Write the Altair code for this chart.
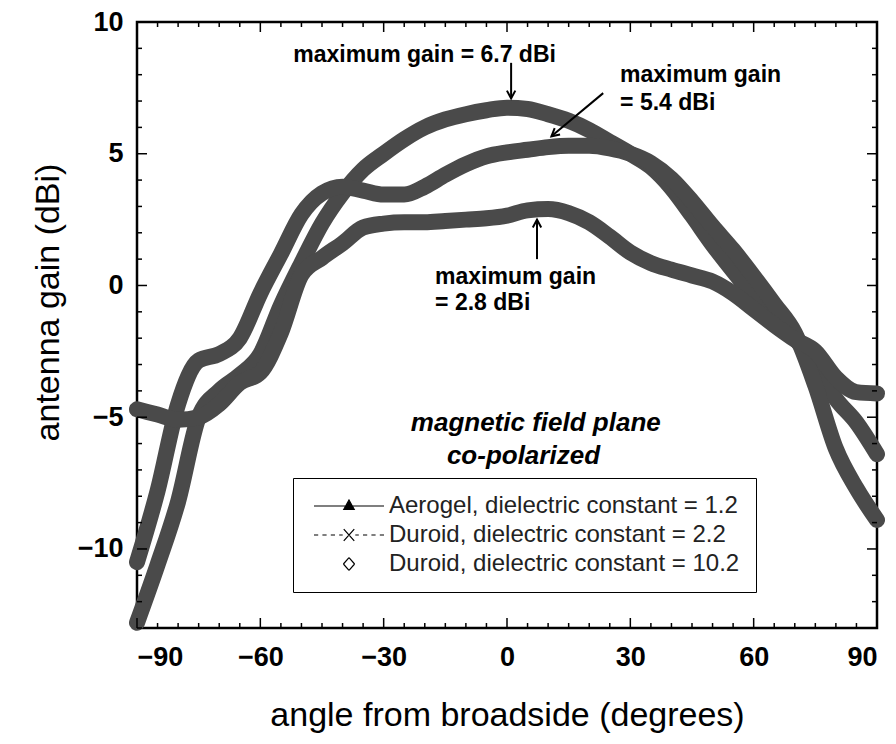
import altair as alt
import pandas as pd

# ---------------- data ----------------
angles = [-90, -85, -80, -75, -70, -65, -60, -55, -50, -45, -40, -35, -30, -25,
          -20, -15, -10, -5, 0, 5, 10, 15, 20, 25, 30, 35, 40, 45, 50, 55, 60,
          65, 70, 75, 80, 85, 90]

aerogel_12 = [-12.8, -10.6, -8.2, -5.0, -4.0, -3.4, -2.6, -0.75, 0.85, 2.35, 3.5,
              4.4, 5.0, 5.55, 6.0, 6.3, 6.5, 6.65, 6.75, 6.7, 6.5, 6.25, 5.9, 5.45,
              5.0, 4.5, 3.7, 2.65, 1.55, 0.55, -0.4, -1.25, -2.0, -3.0, -4.3, -5.2,
              -6.4]

duroid_22 = [-10.5, -7.8, -4.5, -2.85, -2.6, -2.0, -0.3, 1.2, 2.7, 3.5, 3.75, 3.6,
             3.45, 3.45, 3.75, 4.2, 4.6, 4.9, 5.05, 5.15, 5.25, 5.3, 5.3, 5.2, 5.0,
             4.65, 4.05, 3.2, 2.25, 1.35, 0.35, -0.7, -1.8, -3.8, -6.2, -7.7, -8.9]

duroid_102 = [-4.7, -4.9, -5.1, -5.0, -4.5, -3.7, -3.3, -1.8, 0.4, 1.05, 1.6, 2.2,
              2.35, 2.4, 2.4, 2.45, 2.5, 2.55, 2.65, 2.85, 2.9, 2.75, 2.4, 1.85,
              1.25, 0.85, 0.6, 0.38, 0.15, -0.3, -0.9, -1.5, -2.05, -2.5, -3.5,
              -4.05, -4.1]

materials = ["Aerogel, dielectric constant = 1.2",
             "Duroid, dielectric constant = 2.2",
             "Duroid, dielectric constant = 10.2"]

# legend glyphs: solid line + triangle, dotted line + x, open diamond only
legend_paths = [
    "M-5,0H5M0,-0.85L0.75,0.5L-0.75,0.5Z",
    "M-5,0H-4.4M-3.8,0H-3.2M-2.6,0H-2M-1.4,0H-0.9M0.9,0H1.4M2,0H2.6M3.2,0H3.8M4.4,0H5"
    "M-0.75,-0.85L0.75,0.85M-0.75,0.85L0.75,-0.85",
    "M0,-0.9L0.8,0M0.8,0L0,0.9M0,0.9L-0.8,0M-0.8,0L0,-0.9",
]

x_ticks_major = [-90, -60, -30, 0, 30, 60, 90]
x_ticks_minor = [a for a in range(-90, 91, 5) if a not in x_ticks_major]
y_ticks_major = [-10, -5, 0, 5, 10]
y_ticks_minor = [g for g in range(-13, 11) if g not in y_ticks_major]

ann_text = ["maximum gain = 6.7 dBi", "maximum gain", "= 5.4 dBi",
            "maximum gain", "= 2.8 dBi"]
ann_x = [-52.0, 27.5, 27.5, -17.5, -17.5]
ann_y = [8.75, 7.99, 6.93, 0.32, -0.66]

note_text = ["magnetic field plane", "co-polarized"]
note_x = [7.0, 4.0]
note_y = [-5.22, -6.47]

arrow_x1 = [1.0, 23.4, 7.3]
arrow_y1 = [8.45, 7.3, 1.0]
arrow_x2 = [1.0, 10.8, 7.3]
arrow_y2 = [7.1, 5.66, 2.5]
arrow_rot = [0, 50, 180]

# ---------------- tables ----------------
rows = []
for name, vals in zip(materials, [aerogel_12, duroid_22, duroid_102]):
    for a, g in zip(angles, vals):
        rows.append({"material": name, "angle": a, "gain": g})
curves = pd.DataFrame(rows)

legend_df = pd.DataFrame({"material": materials})
ann_df = pd.DataFrame({"angle": ann_x, "gain": ann_y, "txt": ann_text})
note_df = pd.DataFrame({"angle": note_x, "gain": note_y, "txt": note_text})
arrow_df = pd.DataFrame({"angle": arrow_x1, "gain": arrow_y1,
                         "angle2": arrow_x2, "gain2": arrow_y2, "rot": arrow_rot})
xmaj = pd.DataFrame({"angle": x_ticks_major})
xmin = pd.DataFrame({"angle": x_ticks_minor})
ymaj = pd.DataFrame({"gain": y_ticks_major})
ymin = pd.DataFrame({"gain": y_ticks_minor})

W, H = 740, 606
FONT = "Liberation Sans"

xscale = alt.Scale(domain=[-90, 90], nice=False, zero=False)
yscale = alt.Scale(domain=[-13, 10], nice=False, zero=False)

xaxis = alt.Axis(values=x_ticks_major, format="d", grid=False, domain=False,
                 ticks=False, tickSize=0, labelPadding=16, labelFont=FONT,
                 labelFontSize=27, labelFontWeight="bold", labelColor="black",
                 titleFont=FONT, titleFontSize=34, titleFontWeight="normal",
                 titleColor="black", titleBaseline="alphabetic", titleY=97)
yaxis = alt.Axis(values=y_ticks_major, format="d", grid=False, domain=False,
                 ticks=False, tickSize=0, labelPadding=14, labelFont=FONT,
                 labelFontSize=27, labelFontWeight="bold", labelColor="black",
                 titleFont=FONT, titleFontSize=34, titleFontWeight="normal",
                 titleColor="black", titleX=-89, titleY=280,
                 titleBaseline="middle", titleAngle=270)

XT = "angle from broadside (degrees)"
YT = "antenna gain (dBi)"


def X(field="angle"):
    return alt.X(f"{field}:Q", scale=xscale, axis=xaxis, title=XT)


def Y(field="gain"):
    return alt.Y(f"{field}:Q", scale=yscale, axis=yaxis, title=YT)


lines = alt.Chart(curves).mark_line(
    strokeWidth=16, color="#4a4a4a", interpolate="monotone", strokeCap="round"
).encode(x=X(), y=Y(), detail="material:N", order="angle:Q")

legend_layer = alt.Chart(legend_df).mark_point(
    clip=True, filled=False, fill="black", stroke="black", strokeWidth=1.2,
    size=196, opacity=1
).encode(
    x=alt.value(-200), y=alt.value(-200),
    shape=alt.Shape("material:N",
                    scale=alt.Scale(domain=materials, range=legend_paths),
                    legend=alt.Legend(orient="none", legendX=156, legendY=456,
                                      title=None, padding=16,
                                      strokeColor="black", fillColor="white",
                                      labelFont=FONT, labelFontSize=24,
                                      labelColor="#222", labelLimit=0,
                                      symbolSize=196, symbolOffset=28,
                                      labelOffset=28, rowPadding=5,
                                      symbolStrokeWidth=1.2))
)

ann = alt.Chart(ann_df).mark_text(
    align="left", baseline="middle", font=FONT, fontSize=23, fontWeight="bold",
    color="black"
).encode(x=X(), y=Y(), text="txt:N")

note = alt.Chart(note_df).mark_text(
    align="center", baseline="middle", font=FONT, fontSize=26,
    fontWeight="bold", fontStyle="italic", color="black"
).encode(x=X(), y=Y(), text="txt:N")

arrow_lines = alt.Chart(arrow_df).mark_rule(color="black", strokeWidth=2).encode(
    x=X(), y=Y(), x2="angle2:Q", y2="gain2:Q")

arrow_heads = alt.Chart(arrow_df).mark_point(
    shape="M-0.7,-1.3L0,0L0.7,-1.3", filled=False, stroke="black",
    strokeWidth=2, size=144, opacity=1
).encode(x=X("angle2"), y=Y("gain2"), angle=alt.Angle("rot:Q", scale=None))

tick_style = dict(color="black", strokeWidth=1.5)
ticks = [
    alt.Chart(xmaj).mark_rule(**tick_style).encode(x=X(), y=alt.value(H), y2=alt.value(H - 10)),
    alt.Chart(xmin).mark_rule(**tick_style).encode(x=X(), y=alt.value(H), y2=alt.value(H - 5)),
    alt.Chart(xmaj).mark_rule(**tick_style).encode(x=X(), y=alt.value(0), y2=alt.value(10)),
    alt.Chart(xmin).mark_rule(**tick_style).encode(x=X(), y=alt.value(0), y2=alt.value(5)),
    alt.Chart(ymaj).mark_rule(**tick_style).encode(y=Y(), x=alt.value(0), x2=alt.value(10)),
    alt.Chart(ymin).mark_rule(**tick_style).encode(y=Y(), x=alt.value(0), x2=alt.value(5)),
    alt.Chart(ymaj).mark_rule(**tick_style).encode(y=Y(), x=alt.value(W), x2=alt.value(W - 10)),
    alt.Chart(ymin).mark_rule(**tick_style).encode(y=Y(), x=alt.value(W), x2=alt.value(W - 5)),
]

chart = alt.layer(lines, legend_layer, ann, note, arrow_lines, arrow_heads, *ticks).properties(
    width=W, height=H,
    padding={"left": 129, "top": 14, "right": 11, "bottom": 108},
    autosize=alt.AutoSizeParams(type="none"),
    background="white",
).configure_view(stroke="black", strokeWidth=2.5)

chart.save("out.html", embed_options={"renderer": "svg", "actions": False})
